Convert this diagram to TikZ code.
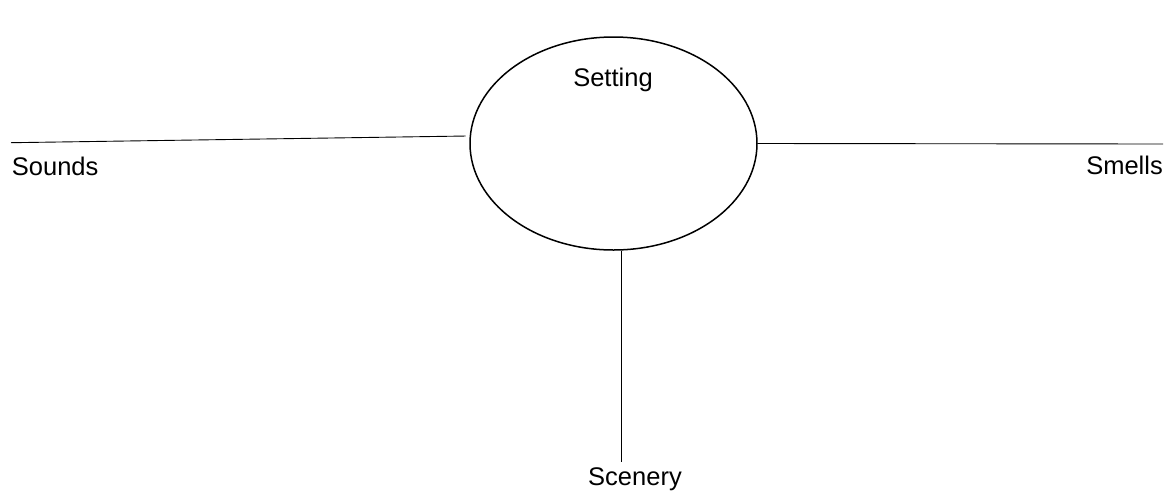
\documentclass[tikz,border=0pt]{standalone}
\usepackage{fontspec}
\setmainfont{Liberation Sans}
\usetikzlibrary{shapes.geometric}
\begin{document}
\begin{tikzpicture}[x=1pt,y=-1pt,
  lbl/.style={inner sep=0pt,font=\fontsize{25.5}{30}\selectfont},
  conn/.style={line width=0.9pt,black}]
\useasboundingbox (0,0) rectangle (1165,491);
\node[ellipse,draw,line width=1.5pt,minimum width=287pt,minimum height=213pt,inner sep=0pt] (set) at (613.5,143.5) {};
\node[lbl,anchor=base] (setlbl) at (613,86) {Setting};
\node[lbl,anchor=base west] (sounds) at (11.7,175) {Sounds};
\node[lbl,anchor=base east] (smells) at (1163,174.3) {Smells};
\node[lbl,anchor=base] (scenery) at (635,485) {Scenery};
\coordinate (lend) at (11,142.7);
\coordinate (rend) at (1163,144);
\coordinate (bend) at (621.7,461.7);
\draw[conn,shorten <=4pt] (set.177.3) -- (lend);
\draw[conn] (set.east) -- (rend);
\draw[conn] (bend |- set.south) -- (bend);
\end{tikzpicture}
\end{document}
